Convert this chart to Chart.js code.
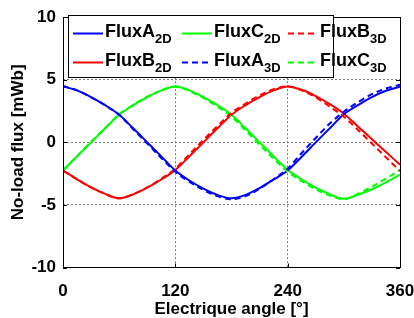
<!DOCTYPE html>
<html>
<head>
<meta charset="utf-8">
<script src="https://cdn.jsdelivr.net/npm/chart.js@4.4.0/dist/chart.umd.min.js"></script>
<style>
  html, body { margin: 0; padding: 0; background: #fff; }
  #wrap { width: 414px; height: 318px; }
</style>
</head>
<body>
<div id="wrap"><canvas id="fluxChart"></canvas></div>
<script>
// electrical angle in degrees
const angles = [0, 15, 30, 45, 60, 75, 90, 105, 120, 135, 150, 165, 180,
  195, 210, 225, 240, 255, 270, 285, 300, 315, 330, 345, 360];

// no-load flux [mWb]
const fluxA2D = [4.47, 4.15, 3.62, 2.97, 2.2, 1.12, 0.0, -1.12, -2.25, -3.05, -3.7, -4.2, -4.47,
  -4.2, -3.65, -2.97, -2.25, -1.15, 0.0, 1.12, 2.25, 2.97, 3.62, 4.12, 4.45];
const fluxB2D = [-2.25, -2.95, -3.6, -4.12, -4.47, -4.15, -3.62, -2.97, -2.2, -1.12, 0.0, 1.12, 2.2,
  2.97, 3.62, 4.15, 4.47, 4.2, 3.7, 3.05, 2.29, 1.27, 0.25, -0.77, -1.79];
const fluxC2D = [-2.25, -1.12, 0.0, 1.12, 2.2, 2.97, 3.62, 4.15, 4.47, 4.15, 3.62, 2.97, 2.2,
  1.12, 0.0, -1.12, -2.2, -2.97, -3.62, -4.15, -4.5, -4.2, -3.75, -3.2, -2.57];
const fluxA3D = [4.5, 4.15, 3.6, 2.95, 2.2, 1.05, -0.1, -1.25, -2.35, -3.15, -3.8, -4.3, -4.55,
  -4.3, -3.7, -2.95, -2.1, -0.85, 0.35, 1.5, 2.45, 3.2, 3.85, 4.3, 4.6];
const fluxB3D = [-2.25, -2.95, -3.6, -4.12, -4.47, -4.15, -3.6, -2.9, -2.1, -0.95, 0.2, 1.3, 2.35,
  3.1, 3.75, 4.25, 4.47, 4.15, 3.6, 2.85, 2.05, 1.0, -0.1, -1.2, -2.3];
const fluxC3D = [-2.25, -1.1, 0.05, 1.15, 2.25, 3.0, 3.65, 4.15, 4.47, 4.1, 3.55, 2.85, 2.05,
  0.95, -0.2, -1.3, -2.35, -3.1, -3.75, -4.25, -4.55, -4.1, -3.55, -2.9, -2.2];

const xTicks = [0, 120, 240, 360];
const yTicks = [-10, -5, 0, 5, 10];

const FONT = "'Liberation Sans', Arial, sans-serif";

const pts = (vals) => angles.map((a, i) => ({x: a, y: vals[i]}));

const mkSet = (name, sub, vals, color, dashed) => ({
  label: name + sub,
  name: name,
  sub: sub,
  data: pts(vals),
  borderColor: color,
  backgroundColor: color,
  borderWidth: 2,
  borderDash: dashed ? [6, 4] : [],
  pointRadius: 0,
  cubicInterpolationMode: 'monotone',
  fill: false,
  order: dashed ? 0 : 1
});

// legend order is column-major like the original
const datasets = [
  mkSet('FluxA', '2D', fluxA2D, '#0000ff', false),
  mkSet('FluxB', '2D', fluxB2D, '#ff0000', false),
  mkSet('FluxC', '2D', fluxC2D, '#00ff00', false),
  mkSet('FluxA', '3D', fluxA3D, '#0000ff', true),
  mkSet('FluxB', '3D', fluxB3D, '#ff0000', true),
  mkSet('FluxC', '3D', fluxC3D, '#00ff00', true),
];

// box, inward tick marks and the boxed legend
const frameAndLegend = {
  id: 'frameAndLegend',
  afterDatasetsDraw(chart) {
    const {ctx, chartArea: ca, scales} = chart;
    ctx.save();
    ctx.strokeStyle = '#000';
    ctx.lineWidth = 1;
    ctx.setLineDash([]);
    ctx.strokeRect(Math.round(ca.left) + 0.5, Math.round(ca.top) + 0.5,
      Math.round(ca.right - ca.left), Math.round(ca.bottom - ca.top));
    const tl = 4;
    ctx.beginPath();
    xTicks.forEach(v => {
      const x = Math.round(scales.x.getPixelForValue(v)) + 0.5;
      ctx.moveTo(x, ca.bottom); ctx.lineTo(x, ca.bottom - tl);
      ctx.moveTo(x, ca.top); ctx.lineTo(x, ca.top + tl);
    });
    yTicks.forEach(v => {
      const y = Math.round(scales.y.getPixelForValue(v)) + 0.5;
      ctx.moveTo(ca.left, y); ctx.lineTo(ca.left + tl, y);
      ctx.moveTo(ca.right, y); ctx.lineTo(ca.right - tl, y);
    });
    ctx.stroke();

    // legend
    const bx = 68.5, by = 15.5, bw = 265, bh = 62;
    ctx.fillStyle = '#fff';
    ctx.fillRect(bx, by, bw, bh);
    ctx.strokeRect(bx, by, bw, bh);
    const cols = [73, 182, 288];
    const rows = [33.5, 62.5];
    const dsList = chart.data.datasets;
    dsList.forEach((ds, i) => {
      const cx = cols[Math.floor(i / 2)];
      const cy = rows[i % 2];
      ctx.strokeStyle = ds.borderColor;
      ctx.lineWidth = 2;
      ctx.setLineDash(ds.borderDash);
      ctx.beginPath();
      ctx.moveTo(cx, cy); ctx.lineTo(cx + 30, cy);
      ctx.stroke();
      ctx.setLineDash([]);
      ctx.fillStyle = '#000';
      ctx.textBaseline = 'alphabetic';
      ctx.textAlign = 'left';
      ctx.font = 'bold 18px ' + FONT;
      const tx = cx + 32;
      ctx.fillText(ds.name, tx, cy + 3);
      const w = ctx.measureText(ds.name).width;
      ctx.font = 'bold 13px ' + FONT;
      ctx.fillText(ds.sub, tx + w, cy + 9.5);
    });
    ctx.restore();
  }
};

const edgeless = (vals) => (c) => (c.tick.value === vals[0] || c.tick.value === vals[vals.length - 1]) ? 'rgba(0,0,0,0)' : '#7a7a7a';

const config = {
  type: 'line',
  data: {datasets: datasets},
  options: {
    responsive: true,
    maintainAspectRatio: false,
    animation: false,
    layout: {padding: {left: 0, right: 0, top: 13, bottom: 0}},
    plugins: {
      legend: {display: false},
      tooltip: {enabled: false}
    },
    scales: {
      x: {
        type: 'linear',
        min: 0,
        max: 360,
        afterBuildTicks: (s) => { s.ticks = xTicks.map(v => ({value: v})); },
        afterFit: (s) => { s.height = 50.5; s.paddingRight = 14; s.paddingLeft = 0; },
        ticks: {
          color: '#000',
          padding: 14,
          maxRotation: 0,
          font: {family: FONT, size: 17, weight: 'bold'}
        },
        grid: {color: edgeless(xTicks), lineWidth: 1, drawTicks: false},
        border: {display: false, dash: [2, 2]},
        title: {
          display: true,
          text: 'Electrique angle [°]',
          color: '#000',
          padding: {top: 0, bottom: -2},
          font: {family: FONT, size: 17, weight: 'bold'}
        }
      },
      y: {
        min: -10,
        max: 10,
        afterBuildTicks: (s) => { s.ticks = yTicks.map(v => ({value: v})); },
        afterFit: (s) => { s.width = 63; },
        ticks: {
          color: '#000',
          padding: 7,
          font: {family: FONT, size: 17, weight: 'bold'}
        },
        grid: {color: edgeless(yTicks), lineWidth: 1, drawTicks: false},
        border: {display: false, dash: [2, 2]},
        title: {
          display: true,
          text: 'No-load flux [mWb]',
          color: '#000',
          padding: {top: 8, bottom: 0},
          font: {family: FONT, size: 17, weight: 'bold'}
        }
      }
    }
  },
  plugins: [frameAndLegend]
};

new Chart(document.getElementById('fluxChart').getContext('2d'), config);
</script>
</body>
</html>
